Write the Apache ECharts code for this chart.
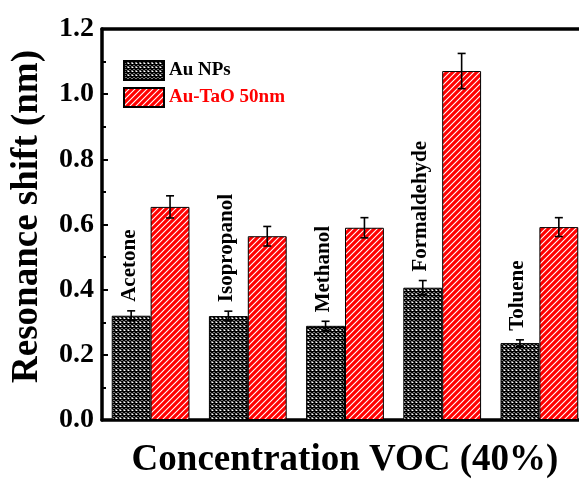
<!DOCTYPE html>
<html>
<head>
<meta charset="utf-8">
<script src="https://cdn.jsdelivr.net/npm/echarts@6/dist/echarts.min.js"></script>
<style>
html,body{margin:0;padding:0;background:#fff;}
#chart{width:579px;height:480px;}
</style>
</head>
<body>
<div id="chart"></div>
<script>
// ---- data ----
var categories = ['Acetone', 'Isopropanol', 'Methanol', 'Formaldehyde', 'Toluene'];
var auNPs = [0.320, 0.319, 0.289, 0.406, 0.236];
var auNPsErr = [0.015, 0.015, 0.014, 0.022, 0.010];
var auTaO = [0.654, 0.564, 0.590, 1.071, 0.592];
var auTaOErr = [0.034, 0.030, 0.031, 0.054, 0.029];
var seriesNames = ['Au NPs', 'Au-TaO 50nm'];
var yMin = 0, yMax = 1.2, yStep = 0.2;

var FONT = '"Liberation Serif", "Times New Roman", serif';

function hatchPattern() {
  var c = document.createElement('canvas');
  var s = 6;
  c.width = s; c.height = s;
  var g = c.getContext('2d');
  g.fillStyle = '#ff0000';
  g.fillRect(0, 0, s, s);
  g.strokeStyle = '#ffffff';
  g.lineWidth = 1.1;
  g.beginPath();
  g.moveTo(-1, s + 1); g.lineTo(s + 1, -1);
  g.moveTo(-1, 1); g.lineTo(1, -1);
  g.moveTo(s - 1, s + 1); g.lineTo(s + 1, s - 1);
  g.stroke();
  return c;
}
function crossPattern() {
  var c = document.createElement('canvas');
  var s = 4;
  c.width = s; c.height = s;
  var g = c.getContext('2d');
  g.fillStyle = '#ffffff';
  g.fillRect(0, 0, s, s);
  g.strokeStyle = '#000000';
  g.lineWidth = 1.5;
  g.beginPath();
  g.moveTo(-1, -1); g.lineTo(s + 1, s + 1);
  g.moveTo(-1, s + 1); g.lineTo(s + 1, -1);
  g.stroke();
  return c;
}

var chart = echarts.init(document.getElementById('chart'));

function errorRender(vals, errs, side, withLabel) {
  return function (params, api) {
    var i = api.value(0);
    var band = api.size([1, 0])[0];
    var c = api.coord([i, vals[i]]);
    var x = c[0] + side * band * 0.2;
    var yTop = api.coord([i, vals[i] + errs[i]])[1];
    var yBot = api.coord([i, vals[i] - errs[i]])[1];
    var cap = 4;
    var st = { stroke: '#000', lineWidth: 1.6 };
    var children = [
      { type: 'line', shape: { x1: x, y1: yTop, x2: x, y2: yBot }, style: st },
      { type: 'line', shape: { x1: x - cap, y1: yTop, x2: x + cap, y2: yTop }, style: st },
      { type: 'line', shape: { x1: x - cap, y1: yBot, x2: x + cap, y2: yBot }, style: st }
    ];
    if (withLabel) {
      children.push({
        type: 'text',
        x: x - 2, y: yTop - 9,
        rotation: Math.PI / 2,
        style: {
          text: categories[i],
          font: 'bold 21px ' + FONT,
          fill: '#000',
          align: 'left',
          verticalAlign: 'middle'
        }
      });
    }
    return { type: 'group', children: children };
  };
}

var idx = categories.map(function (_, i) { return [i]; });

var option = {
  backgroundColor: '#ffffff',
  animation: false,
  grid: { left: 102, top: 29, width: 486, height: 391, containLabel: false, outerBoundsMode: 'none' },
  legend: {
    orient: 'vertical',
    left: 123, top: 60, padding: 0,
    itemWidth: 40, itemHeight: 19, itemGap: 6,
    icon: 'rect',
    data: [
      { name: seriesNames[0], textStyle: { color: '#000' } },
      { name: seriesNames[1], textStyle: { color: '#ff0000' } }
    ],
    textStyle: { fontFamily: FONT, fontWeight: 'bold', fontSize: 19 }
  },
  xAxis: [{
    type: 'category',
    data: categories,
    position: 'bottom',
    name: 'Concentration VOC (40%)',
    nameLocation: 'middle',
    nameGap: 22,
    nameTextStyle: { fontFamily: FONT, fontWeight: 'bold', fontSize: 37, color: '#000' },
    axisLine: { lineStyle: { color: '#000', width: 3.5 } },
    axisTick: { inside: true, length: 3, lineStyle: { color: '#000', width: 2 } },
    axisLabel: { show: false },
    splitLine: { show: false }
  }, {
    type: 'category',
    data: categories,
    position: 'top',
    axisLine: { lineStyle: { color: '#000', width: 3.5 } },
    axisTick: { inside: true, length: 3, alignWithLabel: true, lineStyle: { color: '#000', width: 2 } },
    axisLabel: { show: false },
    splitLine: { show: false }
  }],
  yAxis: {
    type: 'value',
    min: yMin, max: yMax, interval: yStep,
    name: 'Resonance shift (nm)',
    nameLocation: 'middle',
    nameGap: 56,
    nameRotate: 90,
    nameTextStyle: { fontFamily: FONT, fontWeight: 'bold', fontSize: 37, color: '#000', padding: [0, 0, 0, 16] },
    axisLine: { show: true, lineStyle: { color: '#000', width: 3.5 } },
    axisTick: { show: true, inside: true, length: 6, lineStyle: { color: '#000', width: 2 } },
    minorTick: { show: true, splitNumber: 2, length: 4, lineStyle: { color: '#000', width: 2 } },
    axisLabel: {
      fontFamily: FONT, fontWeight: 'bold', fontSize: 28, color: '#000', margin: 8,
      formatter: function (v) { return v.toFixed(1); }
    },
    splitLine: { show: false }
  },
  series: [{
    name: seriesNames[0],
    type: 'bar',
    data: auNPs,
    barWidth: '40%',
    barGap: '0%',
    itemStyle: { color: { image: crossPattern(), repeat: 'repeat' }, borderColor: '#000', borderWidth: 1 },
    z: 2
  }, {
    name: seriesNames[1],
    type: 'bar',
    data: auTaO,
    barWidth: '40%',
    barGap: '0%',
    itemStyle: { color: { image: hatchPattern(), repeat: 'repeat' }, borderColor: '#000', borderWidth: 1 },
    z: 2
  }, {
    type: 'custom',
    renderItem: errorRender(auNPs, auNPsErr, -1, true),
    data: idx,
    encode: { x: 0 },
    z: 5,
    silent: true
  }, {
    type: 'custom',
    renderItem: errorRender(auTaO, auTaOErr, 1, false),
    data: idx,
    encode: { x: 0 },
    z: 5,
    silent: true
  }]
};
chart.setOption(option);
</script>
</body>
</html>
